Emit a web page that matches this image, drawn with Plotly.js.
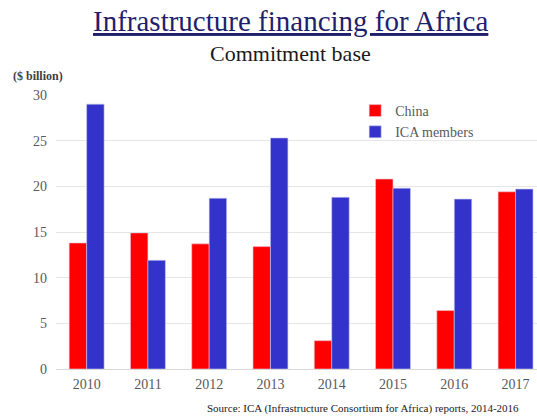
<!DOCTYPE html>
<html>
<head>
<meta charset="utf-8">
<script src="https://cdn.plot.ly/plotly-3.0.1.min.js"></script>
<style>html,body{margin:0;padding:0;background:#fff;}#chart{width:537px;height:417px;}</style>
</head>
<body>
<div id="chart"></div>
<script>
var years = ["2010","2011","2012","2013","2014","2015","2016","2017"];
var china = [13.8, 14.9, 13.7, 13.4, 3.1, 20.8, 6.4, 19.4];
var icaMembers = [29.0, 11.9, 18.7, 25.3, 18.8, 19.8, 18.6, 19.7];
var yTicks = [0, 5, 10, 15, 20, 25, 30];

var serif = "'Liberation Serif', 'Times New Roman', serif";
var data = [
  {type:"bar", name:"China", x:years, y:china,
   marker:{color:"#ff0000", line:{color:"#e8c8d8", width:0.6}}},
  {type:"bar", name:"ICA members", x:years, y:icaMembers,
   marker:{color:"#3333cc", line:{color:"#c8c8ee", width:0.6}}}
];
var layout = {
  width:537, height:417,
  margin:{l:56, r:0, t:95, b:48},
  paper_bgcolor:"#fff", plot_bgcolor:"#fff",
  barmode:"group", bargap:0.43, bargroupgap:0,
  font:{family:serif, color:"#595959"},
  showlegend:true,
  legend:{x:0.622, y:1.0, xanchor:"left", yanchor:"top", bgcolor:"rgba(0,0,0,0)",
          font:{family:serif, size:14, color:"#595959"}, tracegroupgap:0},
  xaxis:{type:"category", range:[-0.5, 7.35], showgrid:false, showline:false, ticks:"",
         tickfont:{family:serif, size:14, color:"#595959"}, ticklabelstandoff:5, fixedrange:true},
  yaxis:{range:[0,30], tickvals:yTicks, showgrid:true, gridcolor:"#e6e6e6", gridwidth:1,
         zeroline:true, zerolinecolor:"#d9d9d9", showline:false, ticks:"",
         tickfont:{family:serif, size:14, color:"#595959"}, ticklabelstandoff:8, fixedrange:true},
  annotations:[
    {text:"<u>Infrastructure financing for Africa</u>", xref:"paper", yref:"paper",
     x:0.487, y:1.27, xanchor:"center", yanchor:"middle", showarrow:false,
     font:{family:serif, size:29, color:"#1f1f6e"}},
    {text:"Commitment base", xref:"paper", yref:"paper",
     x:0.487, y:1.153, xanchor:"center", yanchor:"middle", showarrow:false,
     font:{family:serif, size:22, color:"#1a1a1a"}},
    {text:"<b>($ billion)</b>", xref:"paper", yref:"paper",
     x:-0.093, y:1.069, xanchor:"left", yanchor:"middle", showarrow:false,
     font:{family:serif, size:12, color:"#404040"}},
    {text:"Source: ICA (Infrastructure Consortium for Africa) reports, 2014-2016", xref:"paper", yref:"paper",
     x:0.967, y:-0.143, xanchor:"right", yanchor:"middle", showarrow:false,
     font:{family:serif, size:11, color:"#1a1a1a"}}
  ]
};
Plotly.newPlot("chart", data, layout, {displayModeBar:false, staticPlot:true});
</script>
</body>
</html>
